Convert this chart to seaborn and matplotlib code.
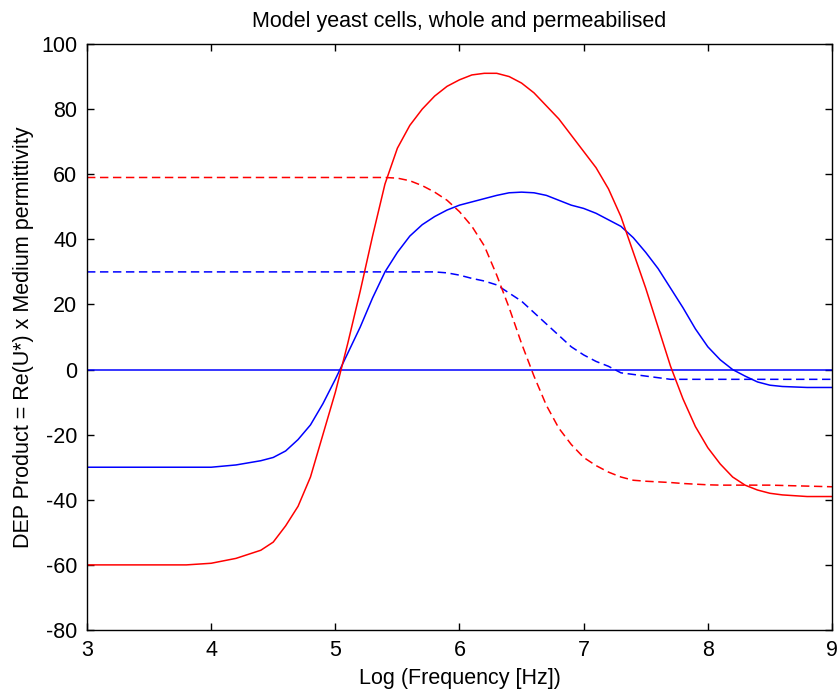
import matplotlib
matplotlib.use("Agg")
import matplotlib.pyplot as plt
import seaborn as sns
import pandas as pd

# ---- data ----
log_freq = [3.0, 3.5, 3.8, 4.0, 4.2, 4.4, 4.5, 4.6, 4.7, 4.8, 4.9, 5.0, 5.1, 5.2, 5.3,
            5.4, 5.5, 5.6, 5.7, 5.8, 5.9, 6.0, 6.1, 6.2, 6.3, 6.4, 6.5, 6.6, 6.7, 6.8,
            6.9, 7.0, 7.1, 7.2, 7.3, 7.4, 7.5, 7.6, 7.7, 7.8, 7.9, 8.0, 8.1, 8.2, 8.3,
            8.4, 8.5, 8.6, 8.8, 9.0]

whole_red = [-60, -60, -60, -59.5, -58, -55.5, -53, -48, -42, -33, -20, -7, 8, 24, 41,
             57, 68, 75, 80, 84, 87, 89, 90.5, 91, 91, 90, 88, 85, 81, 77,
             72, 67, 62, 55.5, 47, 36, 25, 13, 1, -9, -17.5, -24, -29, -33, -35.5,
             -37, -38, -38.5, -39, -39]

perm_red = [59, 59, 59, 59, 59, 59, 59, 59, 59, 59, 59, 59, 59, 59, 59,
            59, 58.8, 58, 56.5, 54.5, 52, 48.5, 44, 38, 29, 19, 8, -2, -11, -18,
            -23, -27, -29.5, -31.5, -33, -34, -34.3, -34.5, -34.7, -35, -35.2, -35.4, -35.5, -35.5, -35.5,
            -35.5, -35.5, -35.6, -35.8, -36]

whole_blue = [-30, -30, -30, -30, -29.3, -28, -27, -25, -21.5, -17, -10.5, -3, 5, 13, 22,
              30, 36, 41, 44.5, 47, 49, 50.5, 51.5, 52.5, 53.5, 54.3, 54.5, 54.3, 53.5, 52,
              50.5, 49.5, 48, 46, 44, 40.5, 36, 31, 25, 19, 12.5, 7, 3, 0, -2,
              -3.8, -4.8, -5.2, -5.5, -5.5]

perm_blue = [30, 30, 30, 30, 30, 30, 30, 30, 30, 30, 30, 30, 30, 30, 30,
             30, 30, 30, 30, 30, 29.7, 29, 28, 27.2, 26, 23.5, 21, 17.5, 14, 10.5,
             7, 4.5, 2.5, 1, -1, -1.5, -2, -2.5, -3, -3, -3, -3, -3, -3, -3,
             -3, -3, -3, -3, -3]

zero_x = [3, 9]
zero_y = [0, 0]

x_ticks = [3, 4, 5, 6, 7, 8, 9]
y_ticks = [-80, -60, -40, -20, 0, 20, 40, 60, 80, 100]

title = "Model yeast cells, whole and permeabilised"
xlabel = "Log (Frequency [Hz])"
ylabel = "DEP Product = Re(U*) x Medium permittivity"

# ---- style ----
sns.set_theme(style="white")
plt.rcParams["font.family"] = ["Liberation Sans", "DejaVu Sans"]
plt.rcParams["xtick.direction"] = "in"
plt.rcParams["ytick.direction"] = "in"

fig = plt.figure(figsize=(8.38, 6.93), dpi=100)
ax = fig.add_axes([0.1038, 0.0909, 0.889, 0.8456])

lw = 1.1
dash = (0, (5.5, 3))
sns.lineplot(x=zero_x, y=zero_y, ax=ax, color="#0000ff", lw=lw)
sns.lineplot(x=log_freq, y=perm_blue, ax=ax, color="#0000ff", lw=lw, linestyle=dash)
sns.lineplot(x=log_freq, y=perm_red, ax=ax, color="#ff0000", lw=lw, linestyle=dash)
sns.lineplot(x=log_freq, y=whole_blue, ax=ax, color="#0000ff", lw=lw)
sns.lineplot(x=log_freq, y=whole_red, ax=ax, color="#ff0000", lw=lw)

ax.set_xlim(3, 9)
ax.set_ylim(-80, 100)
ax.set_xticks(x_ticks)
ax.set_yticks(y_ticks)
ax.set_xticklabels([str(t) for t in x_ticks])
ax.set_yticklabels([str(t) for t in y_ticks])
ax.tick_params(axis="both", which="both", direction="in", length=5, width=1,
               color="black", labelsize=15.5, labelcolor="black",
               top=True, right=True, bottom=True, left=True, pad=7)
for s in ax.spines.values():
    s.set_visible(True)
    s.set_color("black")
    s.set_linewidth(1)

ax.set_title(title, fontsize=15.5, color="black", pad=12)
ax.set_xlabel(xlabel, fontsize=15.5, color="black", labelpad=5)
ax.set_ylabel(ylabel, fontsize=15.5, color="black", labelpad=5)

fig.savefig("out.png", dpi=100, facecolor="white")
